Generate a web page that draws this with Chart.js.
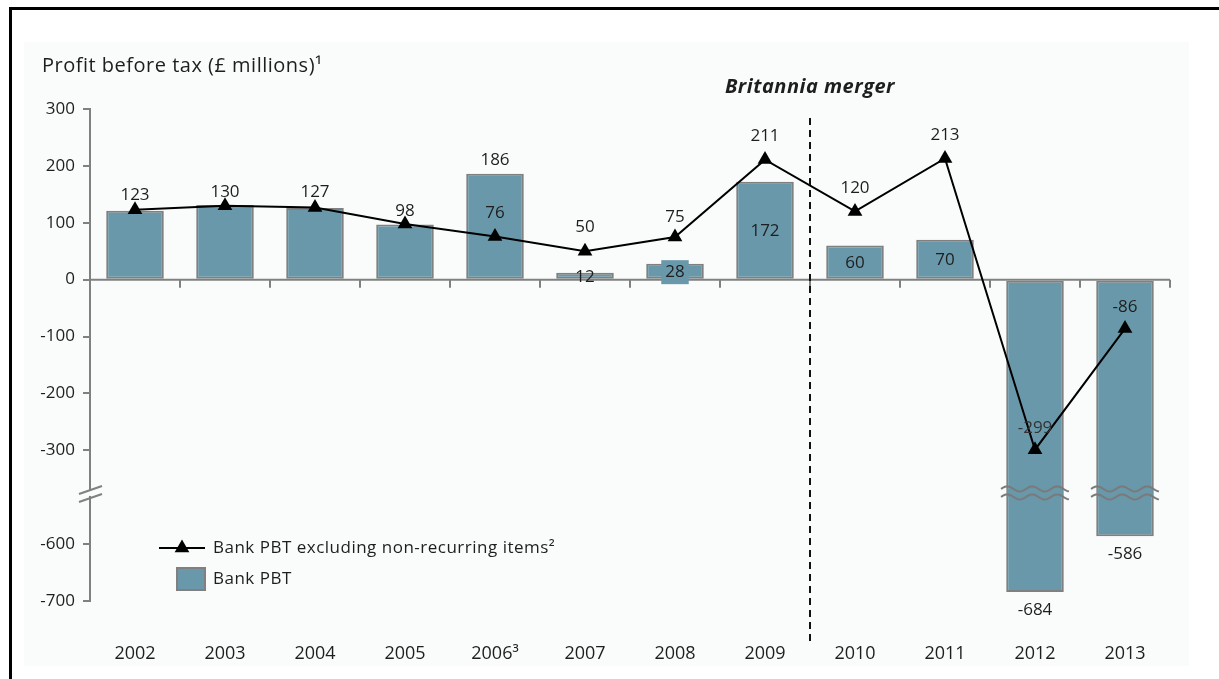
<!DOCTYPE html>
<html lang="en">
<head>
<meta charset="UTF-8">
<title>Bank profit before tax</title>
<style>
  html, body { margin: 0; padding: 0; background: #fff; }
  #wrap { width: 1219px; height: 679px; }
</style>
</head>
<body>
<div id="wrap"><canvas id="pbtChart" width="1219" height="679"></canvas></div>

<script src="https://cdn.jsdelivr.net/npm/chart.js"></script>
<script>
const years = ['2002', '2003', '2004', '2005', '2006³', '2007', '2008', '2009', '2010', '2011', '2012', '2013'];
const bankPbt = [121, 131, 126, 97, 186, 12, 28, 172, 60, 70, -684, -586];
const pbtExNonRecurring = [123, 130, 127, 98, 76, 50, 75, 211, 120, 213, -299, -86];
const yTickValues = [300, 200, 100, 0, -100, -200, -300, -600, -700];

// where each bar label sits: '' none, 'end' past the bar end, 'mid' inside, 'box' inside on a filled patch
const barLabelPos = ['', '', '', '', 'end', 'mid', 'box', 'mid', 'mid', 'mid', 'end', 'end'];
// gap between a triangle and its label
const lineLabelGap = [15, 14, 15, 13, 23, 24, 20, 23, 23, 23, 22, 21];

// broken axis: everything below -300 is pulled up by 135 units
const breakTop = -300;
const breakShift = 135;
const breakMark = -375;
function toAxis(v) { return v < breakTop ? v + breakShift : v; }

const barColor = '#6898a9';
const edgeGray = '#808080';
const fontFam = '"Open Sans", Lato, sans-serif';

Chart.defaults.font.family = fontFam;
Chart.defaults.font.size = 17;
Chart.defaults.color = '#1e1e1e';

function wave(ctx, x0, x1, y, amp, period) {
  ctx.beginPath();
  for (let x = x0; x <= x1; x += 1) {
    const yy = y - amp * Math.sin((x - x0) / period * Math.PI * 2);
    if (x === x0) ctx.moveTo(x, yy); else ctx.lineTo(x, yy);
  }
  ctx.stroke();
}

function triangle(ctx, x, y, r) {
  ctx.beginPath();
  ctx.moveTo(x, y - r);
  ctx.lineTo(x + r * 0.866, y + r / 2);
  ctx.lineTo(x - r * 0.866, y + r / 2);
  ctx.closePath();
  ctx.fill();
}

const decor = {
  id: 'decor',
  beforeDraw(chart) {
    const ctx = chart.ctx;
    ctx.save();
    ctx.fillStyle = '#fff';
    ctx.fillRect(0, 0, chart.width, chart.height);
    ctx.fillStyle = '#fafcfc';
    ctx.fillRect(24, 42, 1165, 624);
    ctx.fillStyle = '#000';
    ctx.fillRect(9, 7, chart.width - 9, 3);
    ctx.fillRect(9, 7, 3, chart.height - 7);

    // titles
    ctx.fillStyle = '#1e1e1e';
    ctx.textBaseline = 'middle';
    ctx.textAlign = 'left';
    ctx.letterSpacing = '0.5px';
    ctx.font = '20px ' + fontFam;
    ctx.fillText('Profit before tax (£ millions)¹', 42, 66);
    ctx.textAlign = 'center';
    ctx.font = 'italic bold 20px ' + fontFam;
    const xs = chart.scales.x;
    const mergeX = (xs.getPixelForValue(7) + xs.getPixelForValue(8)) / 2;
    ctx.fillText('Britannia merger', mergeX, 87);
    ctx.letterSpacing = '0px';
    ctx.restore();
  },
  beforeDatasetsDraw(chart) {
    const ctx = chart.ctx, xs = chart.scales.x, ys = chart.scales.y, area = chart.chartArea;
    const y0 = ys.getPixelForValue(0);
    ctx.save();
    ctx.strokeStyle = edgeGray;
    ctx.lineWidth = 2;
    ctx.beginPath();
    ctx.moveTo(area.left, y0);
    ctx.lineTo(area.right, y0);
    for (let i = 0; i < years.length; i++) {
      const bx = (i < years.length - 1) ? (xs.getPixelForValue(i) + xs.getPixelForValue(i + 1)) / 2 : area.right;
      ctx.moveTo(bx, y0);
      ctx.lineTo(bx, y0 + 8);
    }
    ctx.stroke();
    ctx.restore();
  },
  afterDatasetsDraw(chart) {
    const ctx = chart.ctx, xs = chart.scales.x, ys = chart.scales.y, area = chart.chartArea;
    const bars = chart.getDatasetMeta(1).data;
    const pts = chart.getDatasetMeta(0).data;
    const yBreak = ys.getPixelForValue(breakMark);
    ctx.save();

    // break marks on the tall bars
    ctx.strokeStyle = '#7a7a7a';
    ctx.lineWidth = 2;
    bankPbt.forEach((v, i) => {
      if (v >= breakTop) return;
      const b = bars[i];
      const x0 = Math.round(b.x - b.width / 2 - 5), x1 = Math.round(b.x + b.width / 2 + 5);
      ctx.fillStyle = barColor;
      ctx.fillRect(b.x - b.width / 2 + 1, yBreak - 4, b.width - 2, 8);
      wave(ctx, x0, x1, yBreak - 4, 2.5, 25);
      wave(ctx, x0, x1, yBreak + 4, 2.5, 25);
    });

    // break mark on the y axis
    ctx.fillStyle = '#fafcfc';
    ctx.fillRect(area.left - 3, yBreak - 3, 6, 6);
    ctx.strokeStyle = edgeGray;
    ctx.beginPath();
    ctx.moveTo(area.left - 11, yBreak + 1);
    ctx.lineTo(area.left + 12, yBreak - 7);
    ctx.moveTo(area.left - 11, yBreak + 9);
    ctx.lineTo(area.left + 12, yBreak + 1);
    ctx.stroke();

    // merger divider
    const mergeX = (xs.getPixelForValue(7) + xs.getPixelForValue(8)) / 2;
    ctx.strokeStyle = '#111';
    ctx.lineWidth = 2;
    ctx.setLineDash([7, 5]);
    ctx.beginPath();
    ctx.moveTo(mergeX, 118);
    ctx.lineTo(mergeX, 645);
    ctx.stroke();
    ctx.setLineDash([]);

    // value labels
    ctx.font = '17px ' + fontFam;
    ctx.textAlign = 'center';
    ctx.textBaseline = 'middle';
    bankPbt.forEach((v, i) => {
      const pos = barLabelPos[i];
      if (!pos) return;
      const b = bars[i];
      let y;
      if (pos === 'end') y = v >= 0 ? b.y - 14 : b.y + 18;
      else y = (b.y + b.base) / 2 + 1;
      if (pos === 'box') {
        const w = ctx.measureText(String(v)).width + 8;
        ctx.fillStyle = barColor;
        ctx.fillRect(b.x - w / 2, y - 12, w, 24);
      }
      ctx.fillStyle = '#1e1e1e';
      ctx.fillText(String(v), b.x, y);
    });
    pbtExNonRecurring.forEach((v, i) => {
      const p = pts[i];
      ctx.fillStyle = v < breakTop + 50 && v < 0 ? '#333' : '#1e1e1e';
      ctx.fillText(String(v), p.x, p.y - lineLabelGap[i]);
    });

    // legend
    ctx.strokeStyle = '#000';
    ctx.fillStyle = '#000';
    ctx.lineWidth = 2;
    ctx.beginPath();
    ctx.moveTo(159, 548);
    ctx.lineTo(205, 548);
    ctx.stroke();
    triangle(ctx, 182, 548, 8.5);
    ctx.fillStyle = barColor;
    ctx.fillRect(177, 568, 28, 22);
    ctx.strokeStyle = edgeGray;
    ctx.strokeRect(177, 568, 28, 22);
    ctx.fillStyle = '#1e1e1e';
    ctx.textAlign = 'left';
    ctx.letterSpacing = '0.5px';
    ctx.font = '17px ' + fontFam;
    ctx.fillText(chart.data.datasets[0].label, 213, 548);
    ctx.fillText(chart.data.datasets[1].label, 213, 579);
    ctx.letterSpacing = '0px';
    ctx.restore();
  }
};

const ctx = document.getElementById('pbtChart').getContext('2d');
new Chart(ctx, {
  data: {
    labels: years,
    datasets: [
      {
        type: 'line',
        label: 'Bank PBT excluding non-recurring items²',
        data: pbtExNonRecurring.map(toAxis),
        borderColor: '#000',
        backgroundColor: '#000',
        borderWidth: 2,
        pointStyle: 'triangle',
        pointRadius: 8.5,
        pointBorderWidth: 0,
        tension: 0,
        order: 0
      },
      {
        type: 'bar',
        label: 'Bank PBT',
        data: bankPbt.map(toAxis),
        backgroundColor: barColor,
        borderColor: edgeGray,
        borderWidth: 2,
        borderSkipped: false,
        barPercentage: 0.64,
        categoryPercentage: 1,
        order: 1
      }
    ]
  },
  options: {
    responsive: false,
    animation: false,
    layout: { padding: { left: 25, right: 49, top: 109, bottom: 18 } },
    plugins: { legend: { display: false }, tooltip: { enabled: false } },
    scales: {
      x: {
        grid: { display: false, drawTicks: false },
        border: { display: false },
        ticks: { padding: 42, maxRotation: 0, autoSkip: false, font: { size: 18 } },
        afterFit: s => { s.height = 60; }
      },
      y: {
        min: toAxis(-700),
        max: 300,
        afterBuildTicks: ax => { ax.ticks = yTickValues.map(v => ({ value: toAxis(v) })); },
        ticks: { callback: (v, i) => yTickValues[i], padding: 8 },
        grid: { drawOnChartArea: false, tickLength: 7, color: edgeGray, lineWidth: 2 },
        border: { color: edgeGray, width: 2 },
        afterFit: s => { s.width = 65; }
      }
    }
  },
  plugins: [decor]
});
</script>
</body>
</html>
